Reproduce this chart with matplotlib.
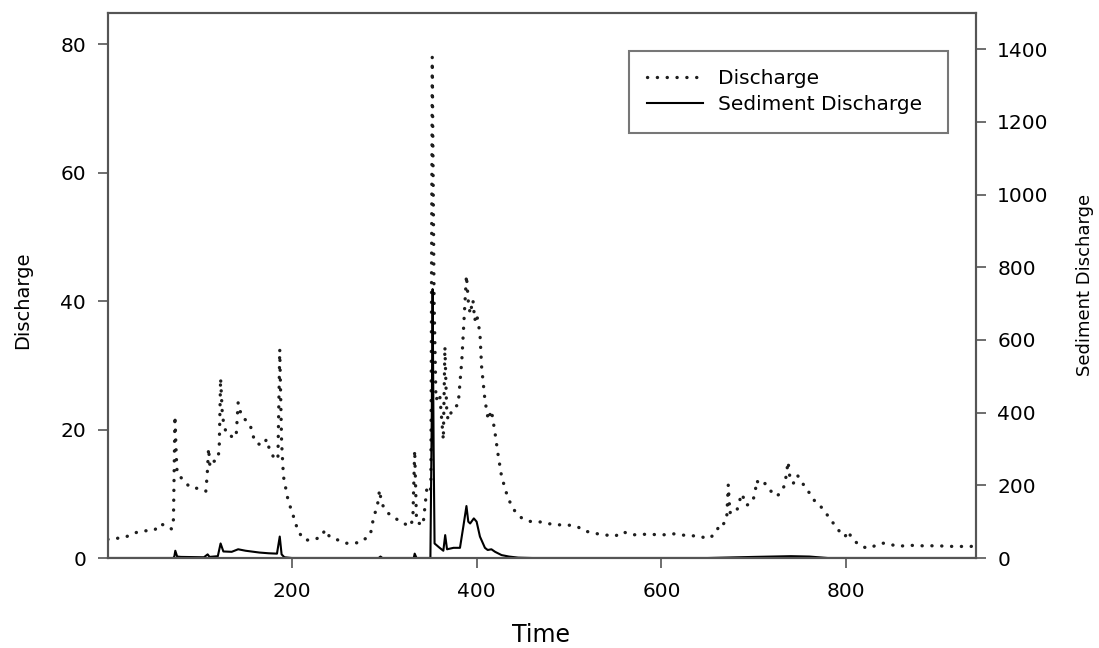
import matplotlib
matplotlib.use("Agg")
import matplotlib.pyplot as plt

# ---- data ----
time_q = [1, 19, 34, 52, 57, 66, 70, 72, 73.6, 75, 76, 84, 90, 100, 107, 108.5, 110, 111.5, 115, 120,
          121.5, 123, 125, 129, 133, 137, 140, 142, 145.7, 150, 155, 160, 162, 168, 173, 176, 180, 185,
          187, 189, 191, 196, 202, 207, 214, 223, 232, 236, 241, 259, 263, 274, 285, 288, 293, 295, 297,
          300, 304, 317, 328, 331, 333, 335, 342, 346, 349, 350.5, 352, 354, 356, 360, 362, 364, 365.7,
          367.5, 369, 375, 380, 384, 386, 387.5, 389, 391, 393, 396, 398, 400, 403.6, 405.4, 409, 412.6,
          416, 420, 423, 427, 432.5, 438, 443, 449, 458, 470, 483, 501, 510, 517, 533, 550, 558, 568,
          584, 602, 611, 627, 642, 649, 654, 660, 663, 667, 670.5, 672.3, 674, 678, 682, 686.7, 689,
          692, 697.6, 701, 703, 706.6, 712, 717, 724.6, 730, 733.6, 737, 739, 742.6, 747, 751.7, 757,
          762.5, 766, 771.5, 775, 780.5, 786, 788, 793, 798.5, 802, 805.8, 811, 816.6, 823.8, 831, 838,
          843.6, 850.8, 858, 865, 881.5, 897.7, 915.7, 935, 940]
discharge = [2.9, 3.2, 4.1, 4.4, 5.3, 5.0, 4.5, 6, 22.1, 16, 13.2, 11.9, 11.0, 10.8, 10.4, 12.9, 17.1, 14.2, 15, 15.3,
             17, 28, 22, 19.4, 19.2, 18.6, 19.4, 24.2, 22, 21.5, 20.7, 18.1, 17.9, 17.5, 18.5, 16.8, 15.8, 15.3,
             32.5, 18, 12.7, 9.0, 6.4, 4.1, 2.8, 2.8, 3.3, 4.4, 3.3, 2.3, 2.3, 2.4, 3.6, 5.9, 8.5, 10.6, 8.6,
             7.8, 7.0, 5.7, 4.9, 6, 16.8, 5.6, 5.1, 10.6, 10, 11, 78, 40, 24.6, 25.6, 22, 18.4, 32.9,
             23.5, 21.5, 23.5, 23.8, 30.8, 36, 40.2, 44, 40, 38, 40.2, 37, 38, 35, 29.8, 24.6, 21.5,
             23, 19.4, 16.3, 12.7, 10, 8.0, 7.0, 6.2, 5.7, 5.6, 5.2, 5.1, 4.8, 4.2, 3.7, 3.4, 4.1, 3.6,
             3.7, 3.6, 3.8, 3.5, 3.4, 3.0, 3.3, 4.2, 5.4, 5.3, 5.9, 11.4, 7.0, 7.8, 7.6, 10.0, 9.3,
             8.2, 8.6, 9.8, 12.1, 11.3, 11.6, 10.6, 9.6, 10.3, 11.5, 15.0, 12.5, 11.6, 12.9, 11.9, 10.6,
             9.8, 8.8, 8.2, 7.5, 6.5, 5.4, 4.9, 4.1, 3.3, 4.2, 3.1, 2.4, 1.8, 1.5, 1.9, 2.3,
             2.3, 2.0, 1.8, 2.0, 1.9, 1.9, 1.8, 1.8, 2.0]

time_s = [1, 72, 73, 74, 76, 80, 105, 109, 111, 120, 123, 126, 135, 142, 150, 165, 175, 184, 187, 189,
          192, 200, 294, 296, 298, 332, 333, 335, 350, 351.5, 352.4, 353.5, 354.5, 360, 364, 366, 368,
          375, 382, 385.6, 389, 391, 393, 397, 400, 403.6, 409, 412, 416, 420, 427, 435, 445, 460, 650,
          700, 740, 760, 780, 940]
sediment = [0, 0, 5, 20, 4, 3, 2, 10, 3, 5, 40, 18, 17, 24, 20, 15, 13, 12, 59, 10,
            2, 0, 0, 4, 0, 0, 12, 0, 0, 400, 740, 300, 40, 28, 20, 63, 24,
            28, 28, 86, 143, 100, 95, 109, 100, 59, 28, 22, 24, 17, 8, 4, 1, 0, 0,
            3, 5, 4, 0, 0]

x_ticks = [200, 400, 600, 800]
left_ticks = [0, 20, 40, 60, 80]
right_ticks = [0, 200, 400, 600, 800, 1000, 1200, 1400]

plt.rcParams['font.family'] = ['DejaVu Sans']

W, H = 1099, 648
fig = plt.figure(figsize=(W / 100, H / 100), dpi=100)
ax_l, ax_r, ax_t, ax_b = 108.3, 975.7, 13.3, 558.0
ax = fig.add_axes([ax_l / W, 1 - ax_b / H, (ax_r - ax_l) / W, (ax_b - ax_t) / H])
ax2 = ax.twinx()

spine_col = '#555555'
l1, = ax.plot(time_q, discharge, color='#1e1e1e', lw=2.4, linestyle=(0, (0.05, 2.9)),
              dash_capstyle='round', label='Discharge')
l2, = ax2.plot(time_s, sediment, color='black', lw=1.5, label='Sediment Discharge')

ax.set_xlim(1.5, 940)
ax.set_ylim(0, 84.8)
ax2.set_ylim(0, 1499)
ax.set_xticks(x_ticks)
ax.set_yticks(left_ticks)
ax2.set_yticks(right_ticks)

for a in (ax, ax2):
    for s in a.spines.values():
        s.set_color(spine_col)
        s.set_linewidth(1.5)
    a.tick_params(direction='out', length=7, width=1.2, color=spine_col, labelsize=14.5)
ax.tick_params(axis='x', pad=10)
ax.tick_params(axis='y', pad=9)
ax2.tick_params(axis='y', pad=8.5)

fig.text(541 / W, 1 - 635 / H, 'Time', fontsize=17, ha='center', va='center')
fig.text(23 / W, 1 - 300 / H, 'Discharge', fontsize=14, rotation=90, ha='center', va='center')
fig.text(1085 / W, 1 - 285 / H, 'Sediment Discharge', fontsize=13, rotation=90, ha='center', va='center')

bx0 = (629.3 - ax_l) / (ax_r - ax_l)
bw = (948.3 - 629.3) / (ax_r - ax_l)
btop = (ax_b - 50.7) / (ax_b - ax_t)
leg = ax.legend([l1, l2], ['Discharge', 'Sediment Discharge'], loc='upper left',
                bbox_to_anchor=(bx0, btop - 0.3, bw, 0.3), mode='expand',
                fontsize=14.5, frameon=True, fancybox=False, borderpad=0.9, handlelength=2.75,
                handletextpad=0.75, labelspacing=0.38, borderaxespad=0)
leg.get_frame().set_edgecolor(spine_col)
leg.get_frame().set_linewidth(1.5)

fig.savefig('out.png', dpi=100)
